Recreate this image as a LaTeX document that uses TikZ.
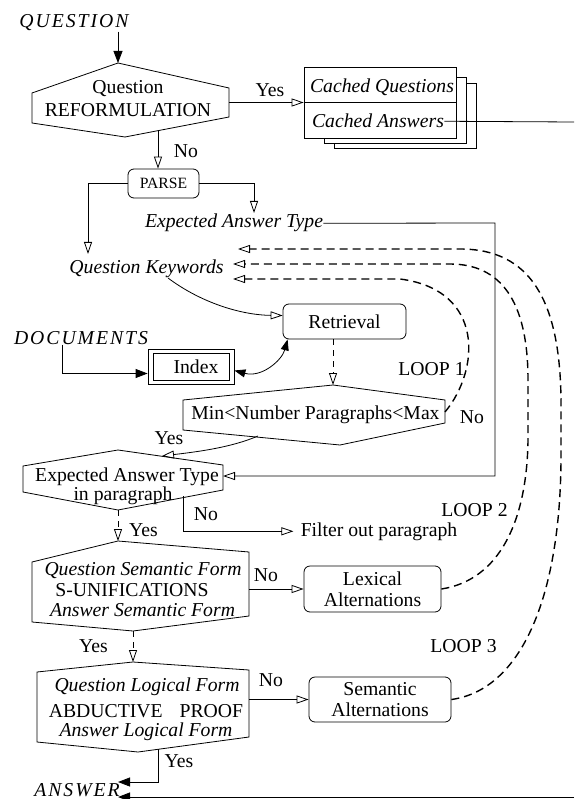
\documentclass[tikz,border=0pt]{standalone}
\usepackage{fontspec}
\setmainfont{Liberation Serif}
\newfontfamily\capit[LetterSpace=10]{Liberation Serif}
\usetikzlibrary{arrows.meta,calc}
\newcommand\fsz{\fontsize{19.7pt}{21pt}\selectfont}
\begin{document}
\begin{tikzpicture}[x=1pt,y=-1pt,line width=0.8pt,
  txt/.style={font=\fsz,inner sep=0pt,anchor=base},
  rbox/.style={draw,rounded corners=6pt,font=\fsz,align=center,inner sep=0pt},
  oarr/.style={-{Triangle[open,length=12pt,width=8pt,line width=0.8pt]}},
  farr/.style={-{Triangle[length=12pt,width=9pt]}},
  dline/.style={dash pattern=on 6pt off 5pt},
  loopline/.style={dash pattern=on 8pt off 5pt,line width=1.4pt},
  hexa/.style={draw,fill=white}]
\useasboundingbox (0,0) rectangle (574,799);

% ---------- top: question & reformulation ----------
\node[txt] (q) at (74,28) {\capit\itshape QUESTION};
\coordinate (h1t) at (118,63);
\draw[hexa] (32,93) -- (h1t) -- (229,88) -- (229,117) -- (125,137) -- (32,123) -- cycle;
\node[txt] (h1a) at (128,94) {Question};
\node[txt] (h1b) at (128,117) {REFORMULATION};
\draw[farr] (q.south -| h1t) -- (h1t);

% cached boxes
\draw[fill=white] (334,83) rectangle (476,148);
\draw[fill=white] (324,77) rectangle (466,143);
\node[draw,fill=white,minimum width=152pt,minimum height=71pt,inner sep=0pt] (cache) at (380,102.5) {};
\draw (cache.west) -- (cache.east);
\node[txt] (cq) at (382,93) {\itshape Cached Questions};
\node[txt] (ca) at (378,128) {\itshape Cached Answers};
\coordinate (h1r) at (229,102.5);
\draw[oarr] (h1r) -- (cache.west);
\node[txt] (yes1) at (270,97) {Yes};
\coordinate (rightA) at (574,122);
\draw (ca.east) -- (rightA);

% parse
\coordinate (h1bot) at (158,131);
\node[rbox,minimum width=71pt,minimum height=29pt,font=\fontsize{15.7pt}{18pt}\selectfont] (parse) at (163.5,183.5) {PARSE};
\draw[oarr] (h1bot) -- (parse.north -| h1bot);
\node[txt] (no1) at (186,158) {No};
\node[txt] (eat) at (234,228) {\itshape Expected Answer Type};
\node[txt] (qk) at (146.5,273) {\itshape Question Keywords};
\coordinate (qkt) at (88,254);
\coordinate (eatt) at (254,213);
\draw[oarr] (parse.west) -| (qkt);
\draw[oarr] (parse.east) -| (eatt);

% retrieval & index
\node[rbox,minimum width=123pt,minimum height=35pt] (retr) at (344.5,321.5) {Retrieval};
\node[draw,minimum width=86pt,minimum height=35pt,inner sep=0pt] (idxo) at (191,366.5) {};
\node[draw,minimum width=76pt,minimum height=27pt,inner sep=0pt,font=\fsz] (idx) at (191,366.5) {\hspace*{10pt}Index};
\node[txt] (docs) at (81,344) {\capit\itshape DOCUMENTS};
\coordinate (dx) at (62,0);
\draw[farr] (docs.south -| dx) |- ($(idxo.west)+(0,7)$);
\draw[oarr] (168,278) .. controls (200,302) and (240,315) .. ($(retr.west)+(0,-6)$);
\draw[{Triangle[length=11pt,width=8pt]}-{Triangle[length=11pt,width=8pt]}]
  ($(idxo.east)+(0,4)$) .. controls (262,378) and (282,360) .. ($(retr.south west)+(5,0)$);

% min < number paragraphs < max
\coordinate (h2t) at (333,385);
\coordinate (h2r) at (445,412);
\draw[hexa] (183,400) -- (h2t) -- (445,400) -- (445,423) -- (340,445) -- (183,430) -- cycle;
\node[txt] (minmax) at (315.5,419) {Min<Number Paragraphs<Max};
\draw[oarr,dline] (retr.south -| h2t) -- (h2t);
\node[txt] (loop1) at (431.5,375) {LOOP 1};
\node[txt] (no2) at (472,423) {No};

% expected answer type in paragraph
\coordinate (h3t) at (118,450);
\coordinate (h3r) at (223,476);
\coordinate (h3b) at (118,510);
\draw[hexa] (23,466) -- (h3t) -- (223,465) -- (223,490) -- (h3b) -- (23,492) -- cycle;
\node[txt] (h3a) at (127,481) {Expected Answer Type};
\node[txt] (h3c) at (123,500) {in paragraph};
\draw[oarr] (258,436) .. controls (230,448) and (195,452) .. (162,456);
\node[txt] (yes2) at (169,444) {Yes};
\draw[oarr] (eat.east) -- (495,223) -- (495,476) -- (h3r);
\node[txt] (filter) at (379,536) {Filter out paragraph};
\coordinate (h3n) at (183,496);
\draw[oarr] (h3n) |- ($(filter.west)+(-7,0)$);
\node[txt] (no3) at (206,520) {No};
\node[txt] (loop2) at (474.5,516) {LOOP 2};

% semantic form
\coordinate (h4t) at (118,541);
\coordinate (h4b) at (133,631);
\draw[hexa] (32,562) -- (h4t) -- (249,552) -- (249,616) -- (h4b) -- (32,622) -- cycle;
\node[txt] (h4a) at (143,575) {\itshape Question Semantic Form};
\node[txt] (h4c) at (132,596) {S-UNIFICATIONS};
\node[txt] (h4d) at (142.5,616) {\itshape Answer Semantic Form};
\draw[oarr,dline] (h3b) -- (h4t);
\node[txt] (yes3) at (143.5,536) {Yes};
\node[rbox,minimum width=137pt,minimum height=46pt] (lex) at (372.5,589) {Lexical\\Alternations};
\coordinate (h4r) at (249,589);
\draw[oarr] (h4r) -- (lex.west);
\node[txt] (no4) at (266,581) {No};
\node[txt] (loop3) at (463.5,652) {LOOP 3};

% logical form
\coordinate (h5t) at (133,662);
\coordinate (h5n) at (158,749);
\draw[hexa] (37,672) -- (h5t) -- (249,670) -- (249,737) -- (138,752) -- (37,742) -- cycle;
\node[txt] (h5a) at (147,691) {\itshape Question Logical Form};
\node[txt] (h5c) at (146,717) {ABDUCTIVE\hspace{17pt}PROOF};
\node[txt] (h5d) at (146,736) {\itshape Answer Logical Form};
\draw[oarr,dline] (h4b) -- (h5t);
\node[txt] (yes4) at (93.5,652) {Yes};
\node[rbox,minimum width=142pt,minimum height=45pt] (sem) at (380,699.5) {Semantic\\Alternations};
\coordinate (h5r) at (249,699.5);
\draw[oarr] (h5r) -- (sem.west);
\node[txt] (no5) at (271,686) {No};

% answer
\node[txt] (ans) at (77,796) {\capit\itshape ANSWER};
\coordinate (a1) at (118,782);
\coordinate (a2) at (118,797);
\coordinate (rightB) at (574,797);
\draw[farr] (h5n) |- (a1);
\node[txt] (yes5) at (179,767) {Yes};
\draw[farr] (rightB) -- (a2);

% loops
\coordinate (t1) at (233,279);
\coordinate (t2) at (233,264);
\coordinate (t3) at (238,249);
\draw[loopline,oarr] (h2r) .. controls (480,370) and (485,290) .. (400,279) -- (t1);
\draw[loopline,oarr] (lex.east) .. controls (500,580) and (527,520) .. (528,440) -- (528,380)
  .. controls (528,300) and (500,264) .. (450,264) -- (t2);
\draw[loopline,oarr] (sem.east) .. controls (520,690) and (560,600) .. (561,460) -- (561,400)
  .. controls (560,300) and (530,249) .. (460,249) -- (t3);
\end{tikzpicture}
\end{document}
